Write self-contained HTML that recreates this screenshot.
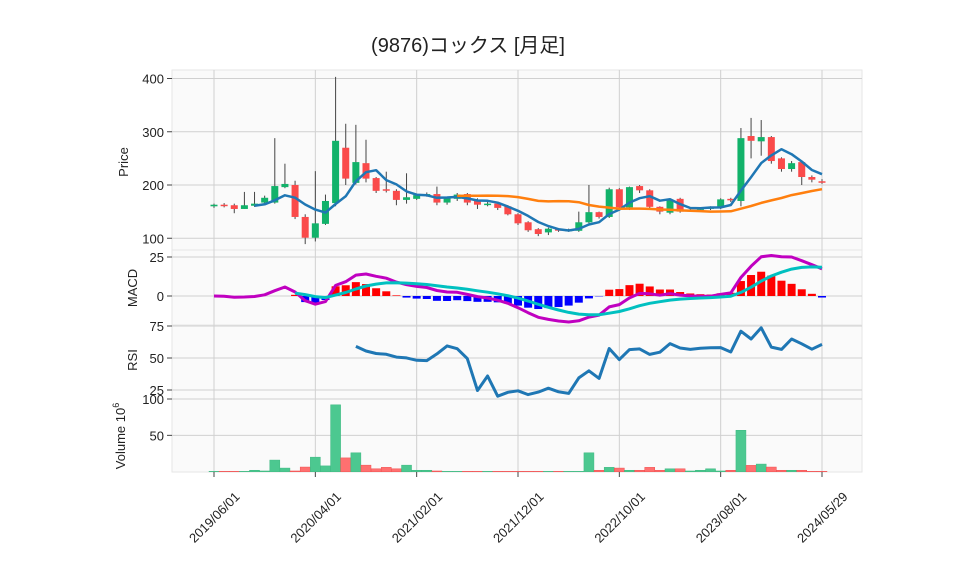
<!DOCTYPE html>
<html><head><meta charset="utf-8">
<style>
body{margin:0;background:#fff;}
svg text{font-family:"Liberation Sans","Noto Sans CJK JP",sans-serif;fill:#222;}
</style></head>
<body>
<svg id="chart" width="958" height="575" xmlns="http://www.w3.org/2000/svg">
<text x="468" y="52" font-size="20" text-anchor="middle">(9876)コックス [月足]</text>
<g id="panels"></g>
<g id="marks"></g>
</svg>
<script>
const opens=[160,163,162,155,161,167,167,196,200,140,101,127,166,270,204,241,213,192,189,172,174,181,183,167,174,183,172,163,165,160,145,130,117,111,117,115,114,130,149,140,192,158,198,190,159,148,174,152,155,157,157,174,170,292,282,290,250,230,243,215,207];
const closes=[163,161,155,162,165,176,198,202,140,101,128,170,283,212,243,212,189,190,172,177,181,183,167,175,182,167,163,165,157,145,128,115,108,118,116,116,130,149,140,192,158,196,190,159,150,172,150,153,156,158,173,172,288,283,290,245,230,241,215,210,205];
const highs=[165,166,165,187,187,180,288,240,208,145,226,182,403,315,313,285,215,225,192,222,184,186,197,178,185,185,175,168,168,162,147,132,119,120,119,118,150,200,150,195,194,197,200,192,160,174,176,155,157,160,175,176,307,326,322,292,252,245,245,218,211];
const lows=[157,158,147,155,159,165,165,194,136,89,94,125,160,200,201,205,185,186,162,165,172,178,162,163,170,162,155,160,153,143,125,112,104,106,112,112,112,128,137,138,155,153,185,156,145,145,148,150,151,153,155,168,160,250,255,240,225,225,200,205,202];
const volumes=[0.5,0.5,0.5,0.5,2,1,16,5,1,6.4,20,8,92,19,26,9,4,6,4,9,2,2,1,0.5,0.5,0.5,0.5,0.5,0.5,0.5,0.5,0.5,0.5,0.5,0.5,0.5,0.5,26,2,6,5,2,2,6,2,4,4,1,2,4,1,2,57,8.7,10.5,6.4,2,2,2,0.5,0.5];
const xTickLabels=["2019/06/01","2020/04/01","2021/02/01","2021/12/01","2022/10/01","2023/08/01","2024/05/29"];
const xTickIdx=[0,10,20,30,40,50,60];
const priceTicks=[100,200,300,400];
const macdTicks=[0,25];
const rsiTicks=[25,50,75];
const volTicks=[50,100];

const NS="http://www.w3.org/2000/svg";
const P=document.getElementById('panels'), M=document.getElementById('marks');
function mk(tag,attrs,parent){const e=document.createElementNS(NS,tag);for(const k in attrs)e.setAttribute(k,attrs[k]);(parent||M).appendChild(e);return e;}
const X0=172,X1=862;
const xOf=i=>214+i*(822-214)/60;
const yP=v=>185-(v-200)*0.5325;
const yM=v=>296-v*1.56;
const yR=v=>358-(v-50)*1.28;
const yV=v=>471.7-v*0.727;

const panels=[["price-panel",70,250],["macd-panel",250,325],["rsi-panel",325,399],["volume-panel",399,472]];
panels.forEach(p=>{const r=mk('rect',{x:X0,y:p[1],width:X1-X0,height:p[2]-p[1],fill:'#fafafa',stroke:'#e6e6e6'},P);});
function hgrid(ticks,fy,name){ticks.forEach(t=>{const y=fy(t);
 const l=mk('line',{x1:X0,x2:X1,y1:y,y2:y,stroke:'#d0d0d0'},P);
 mk('line',{x1:X0-5,x2:X0,y1:y,y2:y,stroke:'#444'},P);
 const tx=mk('text',{x:X0-8,y:y+5,'font-size':13,'text-anchor':'end'},P);tx.textContent=t;});}
hgrid(priceTicks,yP,'price');hgrid(macdTicks,yM,'macd');hgrid(rsiTicks,yR,'rsi');hgrid(volTicks,yV,'volume');
xTickIdx.forEach((ix,k)=>{const x=xOf(ix);
 const l=mk('line',{x1:x,x2:x,y1:70,y2:472,stroke:'#d0d0d0'},P);
 mk('line',{x1:x,x2:x,y1:472,y2:477,stroke:'#444'},P);
 const t=mk('text',{x:x,y:522,'font-size':13,'text-anchor':'middle',transform:`rotate(-45 ${x} 517)`},P);t.textContent=xTickLabels[k];});
[["Price",128,162,"price-axis-title"],["MACD",137,288,"macd-axis-title"],["RSI",137,360,"rsi-axis-title"]].forEach(a=>{const t=mk('text',{x:a[1],y:a[2],'font-size':13,'text-anchor':'middle',transform:`rotate(-90 ${a[1]} ${a[2]})`},P);t.textContent=a[0];});
const vt=mk('text',{x:125,y:436,'font-size':13,'text-anchor':'middle',transform:'rotate(-90 125 436)'},P);

vt.innerHTML='Volume 10<tspan font-size="9" dy="-6">6</tspan>';

const G='#12b26a',R='#fa4a4a',GV='#4cc890',RV='#ff7070';
const n=closes.length;
for(let i=0;i<n;i++){const x=xOf(i),up=closes[i]>=opens[i];
 const w=mk('line',{x1:x,x2:x,y1:yP(highs[i]),y2:yP(lows[i]),stroke:'#444','stroke-width':1});
 const top=yP(Math.max(opens[i],closes[i])),h=Math.max(1.5,Math.abs(yP(opens[i])-yP(closes[i])));
 const b=mk('rect',{x:x-3.5,y:top,width:7,height:h,fill:up?G:R});
 const vb=mk('rect',{x:x-5,y:yV(volumes[i]),width:10,height:volumes[i]*0.727,fill:up?GV:RV,stroke:up?'#3cb880':'#f05050','stroke-width':0.5});}
function sma(a,p){return a.map((v,i)=>i<p-1?null:a.slice(i-p+1,i+1).reduce((s,x)=>s+x,0)/p);}
function ema(a,p){const k=2/(p+1);const o=[];a.forEach((v,i)=>o.push(i===0?v:v*k+o[i-1]*(1-k)));return o;}
function poly(vals,fy,color,w,name){const pts=[];vals.forEach((v,i)=>{if(v!==null&&!isNaN(v))pts.push(xOf(i).toFixed(1)+','+fy(v).toFixed(1));});
 const pl=mk('polyline',{points:pts.join(' '),fill:'none',stroke:color,'stroke-width':w,'stroke-linejoin':'round'});}
poly(sma(closes,5),yP,'#1f77b4',2.5,'ma5-line');
poly(sma(closes,25),yP,'#ff7f0e',2.5,'ma25-line');
const e12=ema(closes,12),e26=ema(closes,26);
const macd=e12.map((v,i)=>v-e26[i]);
const sigFull=ema(macd,9);
const sig=sigFull.map((v,i)=>i<8?null:v);
macd.forEach((v,i)=>{if(sig[i]===null)return;const hv=v-sig[i];const y0=yM(0),y1=yM(hv);
 const r=mk('rect',{x:xOf(i)-4,y:Math.min(y0,y1),width:8,height:Math.abs(y1-y0),fill:hv>=0?'#ff0000':'#0000ff'});});
poly(macd,yM,'#c000c0',3,'macd-line');
poly(sig,yM,'#00c0c0',3,'signal-line');
const rsi=closes.map((c,i)=>{if(i<14)return null;let g=0,l=0;for(let j=i-13;j<=i;j++){const d=closes[j]-closes[j-1];if(d>0)g+=d;else l-=d;}return l===0?100:100-100/(1+g/l);});
poly(rsi,yR,'#1f77b4',3,'rsi-line');
</script>
</body></html>
